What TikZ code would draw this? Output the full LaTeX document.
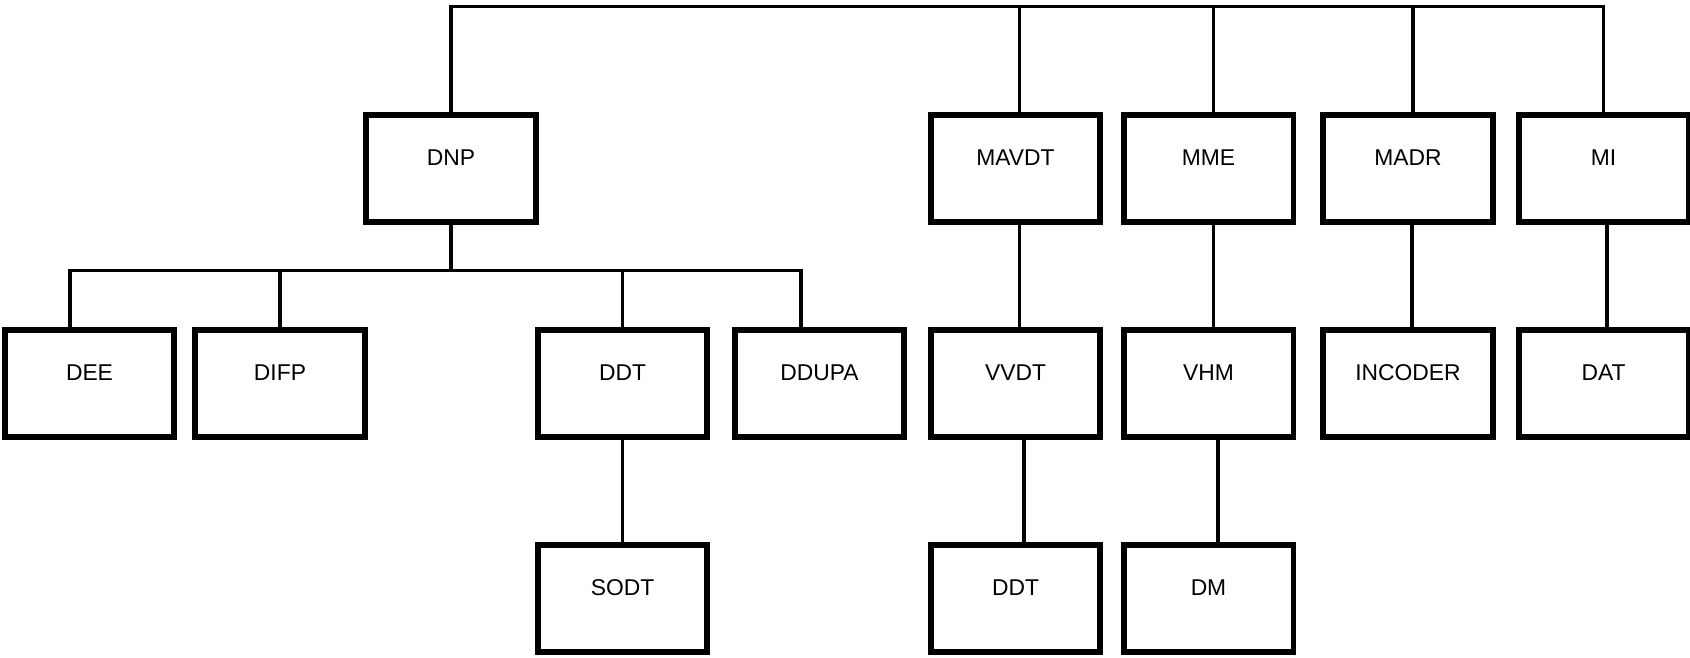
\documentclass[tikz,border=0pt]{standalone}
\usepackage{fontspec}
\setmainfont{Liberation Sans}
\usetikzlibrary{positioning}
\usetikzlibrary{calc}

\begin{document}
\begin{tikzpicture}[x=0.02cm,y=-0.02cm]
  \tikzset{node distance=2.04cm,
           unitbox/.style={draw,line width=0.12cm,minimum width=3.4cm,minimum height=2.14cm,
                           text height=0.34cm,text depth=0.46cm,font=\fontsize{13}{15}\selectfont},
           link/.style={line width=0.065cm}}
  \useasboundingbox (0,0) rectangle (1690,657);

  \node[unitbox] (dnp) at (451,168.5) {DNP};
  \node[unitbox] (mavdt) at (1015.5,168.5) {MAVDT};
  \node[unitbox] (mme) at (1208.5,168.5) {MME};
  \node[unitbox] (madr) at (1408,168.5) {MADR};
  \node[unitbox] (mi) at (1603.5,168.5) {MI};

  \node[unitbox] (dee) at (89.5,383.5) {DEE};
  \node[unitbox] (difp) at (280,383.5) {DIFP};
  \node[unitbox] (ddt) at (622.5,383.5) {DDT};
  \node[unitbox] (ddupa) at (819.5,383.5) {DDUPA};
  \node[unitbox,below=of mavdt] (vvdt) {VVDT};
  \node[unitbox,below=of mme] (vhm) {VHM};
  \node[unitbox,below=of madr] (incoder) {INCODER};
  \node[unitbox,below=of mi] (dat) {DAT};

  \node[unitbox,below=of ddt] (sodt) {SODT};
  \node[unitbox,below=of vvdt] (ddtb) {DDT};
  \node[unitbox,below=of vhm] (dm) {DM};

  \coordinate (topbus) at (0,6.5);
  \coordinate (subbus) at (0,270.5);

  \draw[link] (dnp.north) |- (mi.north |- topbus) -- (mi.north);
  \draw[link] ([xshift=0.8mm]mavdt.north) -- ([xshift=0.8mm]mavdt.north |- topbus);
  \draw[link] ([xshift=1mm]mme.north) -- ([xshift=1mm]mme.north |- topbus);
  \draw[link] ([xshift=1mm]madr.north) -- ([xshift=1mm]madr.north |- topbus);

  \draw[link] (dnp.south) -- (dnp.south |- subbus);
  \draw[link] ([xshift=-3.9mm]dee.north) |- ([xshift=-3.7mm]ddupa.north |- subbus) -- ([xshift=-3.7mm]ddupa.north);
  \draw[link] (difp.north) -- (difp.north |- subbus);
  \draw[link] (ddt.north) -- (ddt.north |- subbus);

  \draw[link] (ddt.south) -- (sodt.north);
  \draw[link] ([xshift=0.8mm]mavdt.south) -- ([xshift=0.8mm]vvdt.north);
  \draw[link] ([xshift=1.7mm]vvdt.south) -- ([xshift=1.7mm]ddtb.north);
  \draw[link] ([xshift=1mm]mme.south) -- ([xshift=1mm]vhm.north);
  \draw[link] ([xshift=1.9mm]vhm.south) -- ([xshift=1.9mm]dm.north);
  \draw[link] ([xshift=0.8mm]madr.south) -- ([xshift=0.8mm]incoder.north);
  \draw[link] ([xshift=0.7mm]mi.south) -- ([xshift=0.7mm]dat.north);
\end{tikzpicture}
\end{document}
